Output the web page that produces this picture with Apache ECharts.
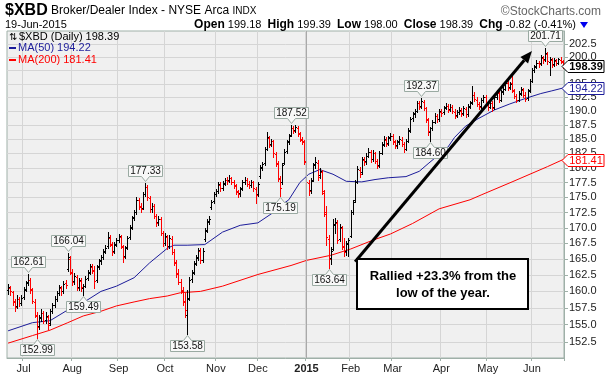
<!DOCTYPE html>
<html>
<head>
<meta charset="utf-8">
<script src="https://cdn.jsdelivr.net/npm/echarts@6/dist/echarts.min.js"></script>
<style>
html, body { margin: 0; padding: 0; background: #fff; }
#chart { width: 606px; height: 376px; }
</style>
</head>
<body>
<div id="chart"></div>
<script>
var FONT = 'Liberation Sans, Arial, sans-serif';

// trading calendar
var holidays = ['2014-07-04', '2014-09-01', '2014-11-27', '2014-12-25', '2015-01-01',
    '2015-01-19', '2015-02-16', '2015-04-03', '2015-05-25'];
var monthNames = ['2015', 'Feb', 'Mar', 'Apr', 'May', 'Jun', 'Jul', 'Aug', 'Sep', 'Oct', 'Nov', 'Dec'];
var yTicks = [152.5, 155, 157.5, 160, 162.5, 165, 167.5, 170, 172.5, 175, 177.5, 180,
    182.5, 185, 187.5, 190, 192.5, 195, 197.5, 200, 202.5];

// daily bars: [open, high, low, close]
var bars = [
[160.2,161.1,159.6,160.6],[160.5,160.9,159.5,160.0],[159.9,160.1,158.0,158.4],[158.5,158.8,157.0,157.6],
[157.8,159.4,157.5,158.9],[158.8,159.2,157.8,158.2],[158.3,159.5,158.0,159.0],[159.1,160.6,158.9,160.2],
[160.3,161.6,160.0,161.3],[161.4,162.61,161.0,161.8],[161.7,162.0,159.8,160.3],[160.2,160.5,158.2,158.5],
[158.4,158.8,156.2,156.5],[156.3,156.9,152.99,154.6],[154.8,156.5,154.3,156.0],[156.1,157.3,155.6,156.8],
[156.7,157.0,155.2,155.6],[155.7,156.9,155.3,156.3],[156.2,156.5,154.3,155.0],[155.2,157.4,155.0,157.0],
[157.1,158.3,156.7,157.9],[158.0,159.3,157.6,158.9],[158.8,160.1,158.5,159.7],[159.8,161.0,159.4,160.6],
[160.5,160.9,159.5,160.0],[160.1,161.6,159.8,161.2],[161.3,161.8,160.5,161.0],[163.5,166.04,163.2,165.3],
[165.0,165.5,162.6,163.0],[162.9,163.4,161.0,161.5],[161.6,162.8,161.2,162.3],[162.2,162.5,160.2,160.5],
[160.6,162.1,160.2,161.7],[161.6,162.0,160.1,160.6],[160.5,161.2,159.49,160.8],[160.9,162.3,160.6,161.9],
[162.0,163.3,161.7,162.9],[163.0,164.3,162.6,163.9],[163.8,164.2,162.8,163.2],[163.3,163.9,160.5,161.6],
[161.8,164.1,161.5,163.8],[163.9,165.0,163.5,164.7],[164.8,165.7,164.3,165.3],[165.4,166.6,165.0,166.2],
[166.3,167.2,165.9,166.8],[167.0,169.3,166.8,168.5],[168.4,168.8,167.0,167.4],[167.3,167.7,165.6,166.2],
[166.3,167.7,165.9,167.3],[167.4,168.4,167.0,168.0],[168.1,169.0,167.7,168.6],[168.5,168.9,166.7,167.0],
[166.9,167.3,164.6,165.4],[165.5,167.1,165.2,166.8],[166.9,168.7,166.6,168.4],[168.5,170.4,168.2,170.0],
[170.1,171.9,169.8,171.6],[171.7,172.9,171.3,172.5],[172.6,175.0,172.3,174.6],[174.5,174.9,173.0,173.4],
[173.5,174.0,172.6,173.0],[173.2,175.9,173.0,175.5],[175.6,177.33,175.2,176.8],[176.7,177.0,174.6,175.0],
[174.9,175.3,172.6,173.0],[173.1,174.1,172.5,173.6],[173.5,173.9,171.6,172.0],[171.9,172.3,170.3,170.8],
[170.9,172.0,170.4,171.5],[171.4,171.7,168.8,169.2],[169.1,169.5,167.0,167.5],[167.6,169.1,167.2,168.6],
[168.5,168.9,166.6,167.0],[167.1,168.8,166.8,168.3],[168.2,168.6,165.8,166.2],[166.1,166.6,164.0,164.5],
[164.4,164.9,162.2,162.7],[162.8,163.5,161.1,161.5],[161.4,161.9,159.7,160.2],[160.1,160.6,158.0,158.4],
[158.5,159.8,156.2,157.2],[156.5,160.2,153.58,158.9],[159.0,162.2,158.7,161.8],[161.9,163.3,161.4,162.9],
[163.0,164.7,162.6,164.3],[164.4,165.6,164.0,165.2],[165.3,166.8,164.9,166.4],[166.3,166.7,164.4,164.8],
[164.9,166.7,164.6,166.3],[168.2,169.9,167.9,169.5],[169.6,171.4,169.3,171.0],[171.1,171.9,170.6,171.4],
[173.4,174.6,173.0,174.3],[174.4,175.9,174.0,175.5],[175.6,176.4,175.2,176.0],[176.1,177.6,175.8,177.2],
[177.1,177.5,176.1,176.5],[176.6,177.7,176.3,177.3],[177.4,178.3,177.0,177.9],[177.9,178.4,177.2,177.8],
[177.9,178.7,177.5,178.3],[178.2,178.5,177.2,177.6],[177.5,177.9,176.6,177.0],[176.9,177.3,175.6,176.0],
[175.9,176.3,175.0,175.6],[175.7,176.8,175.3,176.4],[176.5,177.9,176.2,177.5],[177.6,178.4,177.2,178.0],
[177.9,178.3,176.9,177.3],[177.2,177.7,176.6,177.0],[177.1,178.0,176.8,177.6],[177.5,177.8,176.1,176.5],
[176.4,176.8,174.1,175.4],[175.5,177.6,175.2,177.3],[178.6,180.4,178.3,180.0],[180.1,181.0,179.6,180.6],
[180.8,183.6,180.5,183.2],[183.3,186.2,183.0,185.3],[185.2,185.6,183.6,184.0],[184.1,185.1,183.7,184.7],
[184.6,184.9,181.8,182.5],[182.4,182.8,180.3,180.8],[180.7,181.2,177.7,178.2],[178.1,178.6,175.19,176.5],
[177.5,180.9,177.2,180.5],[180.9,183.2,180.6,182.8],[182.9,184.9,182.5,184.5],[184.6,185.9,184.2,185.5],
[185.8,187.52,185.5,187.0],[187.0,187.3,186.0,186.5],[186.6,187.5,186.2,187.1],[187.0,187.3,185.6,186.0],
[185.9,186.3,184.6,185.0],[184.9,185.4,184.2,184.6],[184.5,184.8,180.6,181.0],[181.2,181.8,177.0,177.5],
[177.4,178.0,175.4,176.0],[176.3,178.3,175.8,177.8],[178.0,180.9,177.7,180.5],[180.6,181.8,180.0,181.0],
[180.9,181.3,178.0,178.5],[178.7,180.0,178.2,179.5],[179.3,179.6,175.5,176.0],[175.8,176.2,172.0,172.5],
[172.3,173.5,167.2,168.5],[168.2,168.8,163.64,165.0],[165.2,166.9,164.3,166.3],[166.6,171.4,166.5,170.5],
[170.6,171.6,169.2,171.0],[170.8,171.2,167.6,168.0],[168.2,170.6,167.9,170.2],[170.0,170.3,166.6,167.0],
[166.9,168.4,165.5,166.2],[166.3,167.9,165.6,167.5],[167.4,168.4,165.5,168.0],[168.6,172.9,168.5,172.5],
[172.6,174.6,172.2,174.3],[174.5,177.9,174.3,177.5],[177.6,180.3,177.4,179.8],[179.7,180.1,178.4,179.0],
[179.2,181.9,178.9,181.5],[181.4,181.8,180.5,181.0],[181.1,182.5,180.7,182.0],[182.1,183.4,181.8,182.8],
[182.7,183.1,181.0,181.5],[181.6,183.0,181.2,182.6],[182.5,182.8,180.9,181.2],[181.1,181.5,180.0,180.3],
[180.4,182.9,180.2,182.5],[182.6,184.4,182.3,184.0],[184.1,185.5,183.7,185.0],[184.9,185.3,183.8,184.2],
[184.3,185.6,184.0,185.2],[185.3,186.1,184.9,185.6],[185.5,185.9,184.2,184.6],[184.5,184.9,183.4,183.8],
[183.9,184.9,183.5,184.5],[184.6,185.5,184.2,185.0],[184.9,185.3,183.8,184.2],[184.1,184.5,182.7,183.2],
[183.3,185.0,183.0,184.6],[184.7,186.9,184.4,186.5],[186.6,189.0,186.3,188.6],[188.7,189.9,188.3,189.5],
[189.6,190.4,189.0,190.0],[190.1,191.9,189.8,191.5],[191.4,191.8,190.4,190.8],[190.9,192.37,190.6,191.8],
[191.7,192.0,190.2,190.6],[190.5,190.8,188.1,188.5],[188.4,188.8,185.8,186.5],[186.2,187.2,184.6,186.9],
[187.0,188.4,186.6,188.0],[188.1,189.6,187.8,189.2],[189.1,189.5,188.1,188.5],[188.6,190.4,188.3,190.0],
[189.9,190.3,189.2,189.7],[189.8,191.0,189.5,190.6],[190.7,191.4,190.3,191.0],[190.9,191.3,189.8,190.2],
[190.3,191.2,190.0,190.8],[190.7,191.1,189.6,190.0],[189.9,190.3,188.7,189.2],[189.3,190.2,189.0,189.8],
[189.9,190.7,189.5,190.2],[190.1,190.5,189.1,189.5],[189.6,190.9,189.3,190.5],[190.4,190.8,189.0,189.4],
[189.5,191.2,189.2,190.8],[190.9,191.9,190.5,191.5],[191.6,194.6,191.3,193.0],[192.9,193.4,191.8,192.2],
[192.1,192.5,190.9,191.3],[191.2,191.6,190.3,190.8],[190.9,192.4,190.6,192.0],[192.1,193.0,191.7,192.6],
[192.5,192.9,191.0,191.5],[191.4,191.8,190.2,190.7],[190.8,191.9,190.5,191.5],[191.4,191.8,190.1,190.6],
[190.7,192.9,190.4,192.5],[192.6,193.8,192.2,193.4],[193.3,193.7,191.6,192.0],[192.1,193.9,191.8,193.5],
[193.6,194.4,193.2,194.0],[194.1,195.6,193.8,195.2],[195.1,195.5,193.9,194.3],[194.4,195.4,194.0,195.0],
[195.1,196.5,193.4,193.8],[193.7,194.1,192.4,192.8],[192.7,193.2,191.6,192.0],[192.1,193.6,191.8,193.2],
[193.3,194.4,192.9,194.0],[193.9,194.3,192.6,193.0],[192.9,193.4,191.8,192.2],[192.3,194.0,192.0,193.6],
[193.8,195.9,193.5,195.5],[195.6,197.9,195.3,197.5],[197.6,198.6,197.2,198.2],[198.3,199.4,197.9,199.0],
[198.9,199.3,198.1,198.8],[198.9,200.4,198.6,200.0],[199.9,200.3,198.9,199.5],[199.6,201.71,199.3,200.8],
[200.7,201.0,198.8,199.2],[199.1,200.0,196.6,199.6],[199.5,199.9,198.2,198.6],[198.7,199.8,198.3,199.4],
[199.3,199.7,198.5,198.9],[199.0,199.9,198.7,199.6],[199.5,200.0,198.9,199.21],[199.18,199.39,198.00,198.39]
];

// moving averages: [bar index, value]
var ma50 = [[0,154.1],[11,155.3],[19,155.6],[27,157.2],[34,158.3],[42,160.0],[49,160.8],[57,162.1],
    [64,164.4],[72,166.7],[75,167.2],[81,167.2],[89,167.3],[97,169.3],[105,170.4],[113,170.8],[120,172.5],
    [124,173.8],[127,174.6],[132,177.5],[136,178.9],[141,179.7],[147,178.9],[153,177.7],[160,177.6],
    [166,178.0],[172,178.3],[180,178.5],[186,179.4],[190,180.7],[195,182.3],[199,183.6],[202,185.3],
    [207,187.3],[213,188.7],[220,190.2],[227,191.3],[234,192.3],[241,193.2],[246,193.7],[251,194.22]];
var ma200 = [[0,152.3],[11,153.4],[19,154.2],[27,155.3],[34,156.3],[42,157.0],[49,157.8],[57,158.4],
    [64,158.9],[72,159.3],[78,159.8],[87,160.0],[97,160.8],[113,162.6],[128,164.0],[135,164.8],[146,165.6],
    [155,166.6],[165,168.0],[173,169.0],[183,170.7],[195,173.1],[209,174.6],[214,175.4],[228,177.6],
    [244,180.2],[251,181.41]];

// labelled highs and lows: [bar index, value, side]
var callouts = [[9,162.61,'up'],[13,152.99,'down'],[27,166.04,'up'],[34,159.49,'down'],
    [62,177.33,'up'],[81,153.58,'down'],[123,175.19,'down'],[128,187.52,'up'],[145,163.64,'down'],
    [187,192.37,'up'],[191,184.60,'down'],[243,201.71,'up']];

var lastClose = 198.39, lastMa50 = 194.22, lastMa200 = 181.41;
// arrow from [bar, value] to [bar, value]
var arrowFrom = [157, 164.6], arrowTo = [236.6, 201.2];

function tradingDays() {
    var out = [];
    var d = new Date(Date.UTC(2014, 5, 20));
    var end = Date.UTC(2015, 5, 19);
    while (d.getTime() <= end) {
        var dow = d.getUTCDay();
        var s = d.toISOString().slice(0, 10);
        if (dow !== 0 && dow !== 6 && holidays.indexOf(s) < 0) out.push(s);
        d.setUTCDate(d.getUTCDate() + 1);
    }
    return out;
}
var dates = tradingDays();

function isMonthStart(index) {
    return index > 0 && dates[index].slice(5, 7) !== dates[index - 1].slice(5, 7);
}

function renderBar(params, api) {
    var i = api.value(0);
    var o = api.coord([i, api.value(1)]);
    var h = api.coord([i, api.value(2)]);
    var l = api.coord([i, api.value(3)]);
    var c = api.coord([i, api.value(4)]);
    var n = Math.round(o[0]);
    var x = n + 0.5;
    var down = i > 0 && bars[i][3] < bars[i - 1][3];
    var st = { stroke: down ? '#ff0000' : '#000000', lineWidth: 1 };
    var yo = Math.round(o[1]) + 0.5, yc = Math.round(c[1]) + 0.5;
    return {
        type: 'group',
        children: [
            { type: 'line', shape: { x1: x, y1: Math.round(h[1]), x2: x, y2: Math.round(l[1]) + 1 }, style: st },
            { type: 'line', shape: { x1: n - 1, y1: yo, x2: n, y2: yo }, style: st },
            { type: 'line', shape: { x1: n + 1, y1: yc, x2: n + 2, y2: yc }, style: st }
        ]
    };
}

var myChart = echarts.init(document.getElementById('chart'));

var option = {
    animation: false,
    backgroundColor: '#ffffff',
    textStyle: { fontFamily: FONT },
    grid: {
        left: 7, right: 42, top: 31, bottom: 18,
        show: true, backgroundColor: '#f0f0f0', borderColor: '#9fb0a8', borderWidth: 1
    },
    xAxis: {
        type: 'category',
        data: dates,
        boundaryGap: true,
        axisLine: { show: true, lineStyle: { color: '#9fb0a8' } },
        axisTick: { show: true, interval: isMonthStart, length: 3, lineStyle: { color: '#9fb0a8' } },
        axisLabel: {
            interval: isMonthStart,
            margin: 5,
            fontSize: 11,
            color: '#222',
            fontFamily: FONT,
            formatter: function (v) {
                var m = parseInt(v.slice(5, 7), 10) - 1;
                return m === 0 ? '{y|2015}' : monthNames[m];
            },
            rich: { y: { fontWeight: 'bold', fontSize: 11, color: '#222', fontFamily: FONT } }
        },
        splitLine: { show: true, interval: isMonthStart, lineStyle: { color: '#d5d5d5', width: 1 } }
    },
    yAxis: {
        type: 'log',
        logBase: 10,
        min: 150.16,
        max: 205.07,
        position: 'right',
        axisLine: { show: true, lineStyle: { color: '#9fb0a8' } },
        axisTick: { show: true, customValues: yTicks, length: 4, lineStyle: { color: '#9fb0a8' } },
        axisLabel: {
            customValues: yTicks,
            margin: 5,
            fontSize: 11,
            color: '#222',
            fontFamily: FONT,
            formatter: function (v) { return Number(v).toFixed(1); }
        },
        splitLine: { show: true, lineStyle: { color: '#d5d5d5', width: 1 } }
    },
    series: [
        {
            name: 'MA(200)',
            type: 'line',
            data: ma200,
            symbol: 'none',
            smooth: false,
            silent: true,
            lineStyle: { color: '#ff0000', width: 1 },
            z: 2,
            markLine: {
                silent: true,
                symbol: 'none',
                label: { show: false },
                lineStyle: { color: '#a9a9a9', type: 'solid', width: 1 },
                data: [{ xAxis: dates.findIndex(function (d) { return d.slice(0, 4) === '2015'; }) }]
            }
        },
        {
            name: 'MA(50)',
            type: 'line',
            data: ma50,
            symbol: 'none',
            smooth: false,
            silent: true,
            lineStyle: { color: '#1c1c9a', width: 1 },
            z: 3
        },
        {
            name: '$XBD',
            type: 'custom',
            renderItem: renderBar,
            data: bars.map(function (b, i) { return [i, b[0], b[1], b[2], b[3]]; }),
            encode: { x: 0, y: [1, 2, 3, 4] },
            silent: true,
            z: 4
        }
    ]
};
myChart.setOption(option);

function px(idx, v) {
    return myChart.convertToPixel({ xAxisIndex: 0, yAxisIndex: 0 }, [idx, v]);
}

function calloutGraphic(c) {
    var p = px(c[0], c[1]);
    var cx = Math.round(p[0]) + 0.5;
    var w = 34, h = 11;
    var x0 = cx - w / 2, x1 = cx + w / 2;
    var pts, ty;
    if (c[2] === 'up') {
        var yb = Math.round(p[1]) - 6.5, yt = yb - h;
        pts = [[x0, yt], [x1, yt], [x1, yb], [cx + 4, yb], [cx, yb + 5], [cx - 4, yb], [x0, yb]];
        ty = (yt + yb) / 2 + 0.5;
    } else {
        var yt2 = Math.round(p[1]) + 6.5, yb2 = yt2 + h;
        pts = [[x0, yt2], [cx - 4, yt2], [cx, yt2 - 5], [cx + 4, yt2], [x1, yt2], [x1, yb2], [x0, yb2]];
        ty = (yt2 + yb2) / 2 + 0.5;
    }
    return [
        { type: 'polygon', z: 20, shape: { points: pts }, style: { fill: '#f8f8f8', stroke: '#9aaaa2', lineWidth: 1 } },
        { type: 'text', z: 21, x: cx, y: ty, style: {
            text: c[1].toFixed(2), fill: '#111', font: '10px ' + FONT, align: 'center', verticalAlign: 'middle' } }
    ];
}

function tagGraphic(v, color, bold) {
    var y = Math.round(px(0, v)[1]) + 0.5;
    return [
        { type: 'polygon', z: 30, shape: { points: [[562, y], [568, y - 6], [604, y - 6], [604, y + 6], [568, y + 6]] },
          style: { fill: '#ffffff', stroke: color, lineWidth: 1 } },
        { type: 'text', z: 31, x: 586, y: y + 0.5, style: {
            text: v.toFixed(2), fill: color, font: (bold ? 'bold ' : '') + '11px ' + FONT,
            align: 'center', verticalAlign: 'middle' } }
    ];
}

var g = [];
callouts.forEach(function (c) { g = g.concat(calloutGraphic(c)); });
g = g.concat(tagGraphic(lastMa200, '#ff0000', false));
g = g.concat(tagGraphic(lastMa50, '#1c1c9a', false));
g = g.concat(tagGraphic(lastClose, '#000000', true));

// arrow
var a0 = px(arrowFrom[0], arrowFrom[1]), a1 = px(arrowTo[0], arrowTo[1]);
var dx = a1[0] - a0[0], dy = a1[1] - a0[1], len = Math.sqrt(dx * dx + dy * dy);
var ux = dx / len, uy = dy / len;
var bx = a1[0] - 12 * ux, by = a1[1] - 12 * uy;
g.push({ type: 'line', z: 25, shape: { x1: a0[0], y1: a0[1], x2: bx, y2: by }, style: { stroke: '#000', lineWidth: 3 } });
g.push({ type: 'polygon', z: 25, shape: { points: [[a1[0], a1[1]], [bx - 5 * uy, by + 5 * ux], [bx + 5 * uy, by - 5 * ux]] },
    style: { fill: '#000' } });

// note box
g.push({ type: 'rect', z: 26, shape: { x: 357, y: 259, width: 171, height: 50 }, style: { fill: '#fff', stroke: '#000', lineWidth: 2 } });
g.push({ type: 'text', z: 27, x: 443, y: 276, style: { text: 'Rallied +23.3% from the', font: 'bold 13px ' + FONT,
    fill: '#000', align: 'center', verticalAlign: 'middle' } });
g.push({ type: 'text', z: 27, x: 443, y: 293, style: { text: 'low of the year.', font: 'bold 13px ' + FONT,
    fill: '#000', align: 'center', verticalAlign: 'middle' } });

// legend inside the plot
g.push({ type: 'text', z: 40, x: 9, y: 37, style: { text: '\u21c5', font: '10px ' + FONT, fill: '#000', verticalAlign: 'middle' } });
g.push({ type: 'text', z: 40, x: 19, y: 37, style: { text: '$XBD (Daily) 198.39', font: '11px ' + FONT, fill: '#000', verticalAlign: 'middle' } });
g.push({ type: 'rect', z: 40, shape: { x: 9, y: 47, width: 7, height: 2 }, style: { fill: '#1c1c9a' } });
g.push({ type: 'text', z: 40, x: 18, y: 48, style: { text: 'MA(50) 194.22', font: '11px ' + FONT, fill: '#1c1c9a', verticalAlign: 'middle' } });
g.push({ type: 'rect', z: 40, shape: { x: 9, y: 59, width: 7, height: 2 }, style: { fill: '#ff0000' } });
g.push({ type: 'text', z: 40, x: 18, y: 60, style: { text: 'MA(200) 181.41', font: '11px ' + FONT, fill: '#ff0000', verticalAlign: 'middle' } });

// header
g.push({ type: 'text', z: 40, x: 5, y: 11, style: {
    text: '{a|$XBD} Broker/Dealer Index - NYSE Arca {c|INDX}',
    font: '12px ' + FONT, fill: '#000', verticalAlign: 'middle',
    rich: { a: { font: 'bold 16px ' + FONT, fill: '#000' }, c: { font: '10px ' + FONT, fill: '#000' } } } });
g.push({ type: 'text', z: 40, x: 601, y: 12, style: { text: '\u00a9StockCharts.com', font: '12px ' + FONT, fill: '#666', align: 'right', verticalAlign: 'middle' } });
g.push({ type: 'text', z: 40, x: 5, y: 25, style: { text: '19-Jun-2015', font: '11px ' + FONT, fill: '#000', verticalAlign: 'middle' } });
g.push({ type: 'text', z: 40, x: 576, y: 25, style: {
    text: '{b|Open} 199.18  {b|High} 199.39  {b|Low} 198.00  {b|Close} 198.39  {b|Chg} -0.82 (-0.41%)',
    font: '11px ' + FONT, fill: '#000', align: 'right', verticalAlign: 'middle',
    rich: { b: { font: 'bold 12px ' + FONT, fill: '#000' } } } });
g.push({ type: 'polygon', z: 40, shape: { points: [[580, 22], [588, 22], [584, 28]] }, style: { fill: '#0000ee' } });

myChart.setOption({ graphic: g });
</script>
</body>
</html>
